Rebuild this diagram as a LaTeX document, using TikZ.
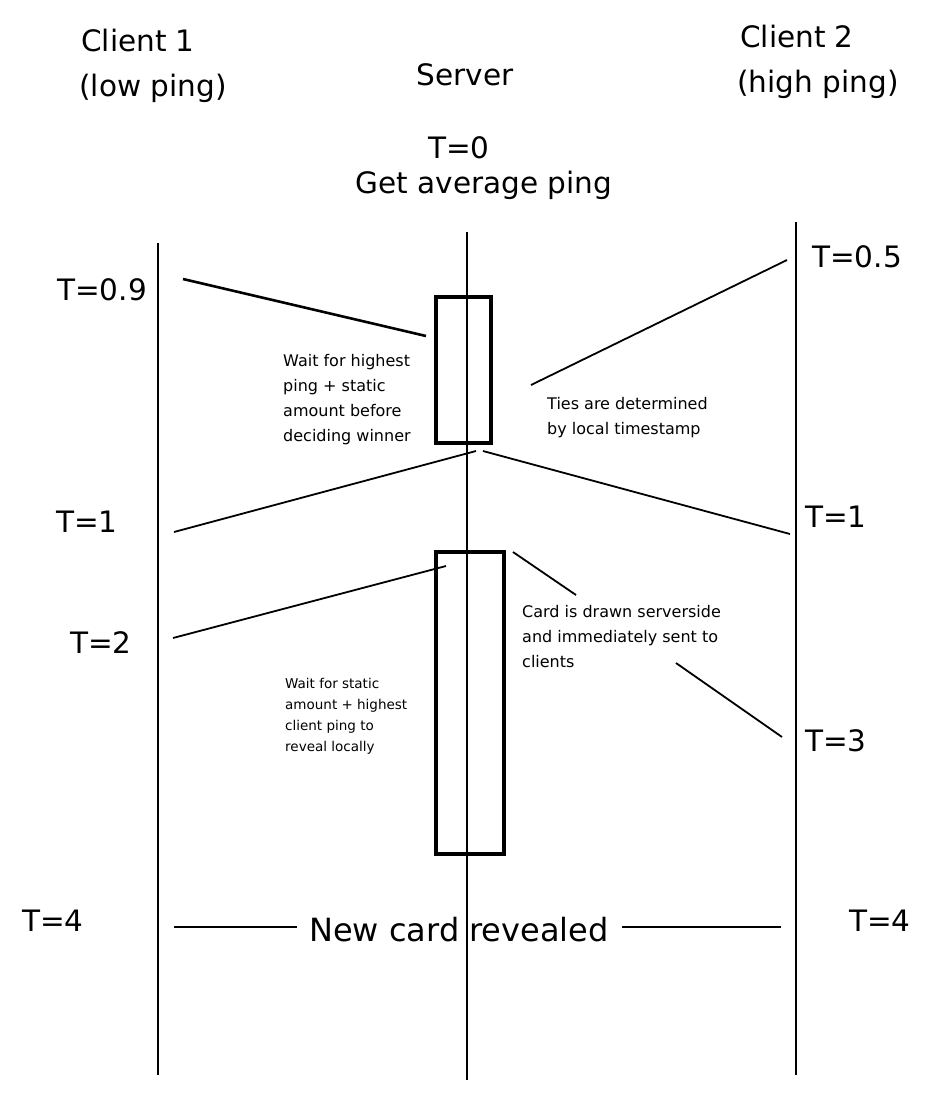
\documentclass[tikz,border=0pt]{standalone}
\usepackage{fontspec}
\setmainfont{DejaVu Sans}
\begin{document}
\begin{tikzpicture}[x=1pt,y=-1pt,
  big/.style={font=\fontsize{29.5}{36}\selectfont, inner sep=0pt},
  note/.style={font=\fontsize{16}{25}\selectfont, align=left, inner sep=0pt, anchor=west},
  smallnote/.style={font=\fontsize{13.5}{21}\selectfont, align=left, inner sep=0pt, anchor=west},
  life/.style={line width=1.7pt},
  msg/.style={line width=1.8pt},
  act/.style={draw, line width=4.5pt, inner sep=0pt}]
\useasboundingbox[fill=white] (0,0) rectangle (946,1096);

% headers
\node[big] (h1a) at (138,40) {Client 1};
\node[big] (h1b) at (153,88) {(low ping)};
\node[big] (hs) at (465,75) {Server};
\node[big] (h2a) at (797,36) {Client 2};
\node[big] (h2b) at (818,84) {(high ping)};
\node[big] (t0) at (459,148) {T=0};
\node[big] (avg) at (484,185) {Get average ping};

% lifelines
\coordinate (c1t) at (158,243); \coordinate (c1b) at (158,1075);
\coordinate (st) at (467,232);  \coordinate (sb) at (467,1080);
\coordinate (c2t) at (796,222); \coordinate (c2b) at (796,1075);
\draw[life] (c1t) -- (c1b);
\draw[life] (st) -- (sb);
\draw[life] (c2t) -- (c2b);

% activation boxes
\node[act, minimum width=55, minimum height=146] (box1) at (463.5,370) {};
\node[act, minimum width=68, minimum height=302] (box2) at (470,703) {};

% time labels
\node[big] (t09) at (102,290) {T=0.9};
\node[big] (t05) at (857,257) {T=0.5};
\node[big] (t1l) at (87,522) {T=1};
\node[big] (t1r) at (836,517) {T=1};
\node[big] (t2) at (101,643) {T=2};
\node[big] (t3) at (836,741) {T=3};
\node[big] (t4l) at (53,921) {T=4};
\node[big] (t4r) at (880,921) {T=4};
\node[big, font=\fontsize{32}{36}\selectfont] (rev) at (459,930) {New card revealed};

% notes
\node[note] (n1) at (283,400) {Wait for highest\\ping + static\\amount before\\deciding winner};
\node[note] (n2) at (547,418) {Ties are determined\\by local timestamp};
\node[note] (n3) at (522,637) {Card is drawn serverside\\and immediately sent to\\clients};
\node[smallnote] (n4) at (285,716) {Wait for static\\amount + highest\\client ping to\\reveal locally};

% messages
\coordinate (a1) at (183,279); \coordinate (a2) at (426,336);
\draw[msg, line width=2.6pt] (a1) -- (a2);
\coordinate (b1) at (531,385); \coordinate (b2) at (787,260);
\draw[msg] (b1) -- (b2);
\coordinate (c1) at (174,532); \coordinate (c2) at (476,451);
\draw[msg] (c1) -- (c2);
\coordinate (d1) at (483,451); \coordinate (d2) at (790,534);
\draw[msg] (d1) -- (d2);
\coordinate (e1) at (173,638); \coordinate (e2) at (446,566);
\draw[msg] (e1) -- (e2);
\coordinate (f1) at (513,552); \coordinate (f2) at (576,595);
\draw[msg] (f1) -- (f2);
\coordinate (g1) at (676,663); \coordinate (g2) at (782,737);
\draw[msg] (g1) -- (g2);
\coordinate (r1) at (174,927); \coordinate (r2) at (297,927);
\coordinate (r3) at (622,927); \coordinate (r4) at (781,927);
\draw[msg] (r1) -- (r2);
\draw[msg] (r3) -- (r4);
\end{tikzpicture}
\end{document}
